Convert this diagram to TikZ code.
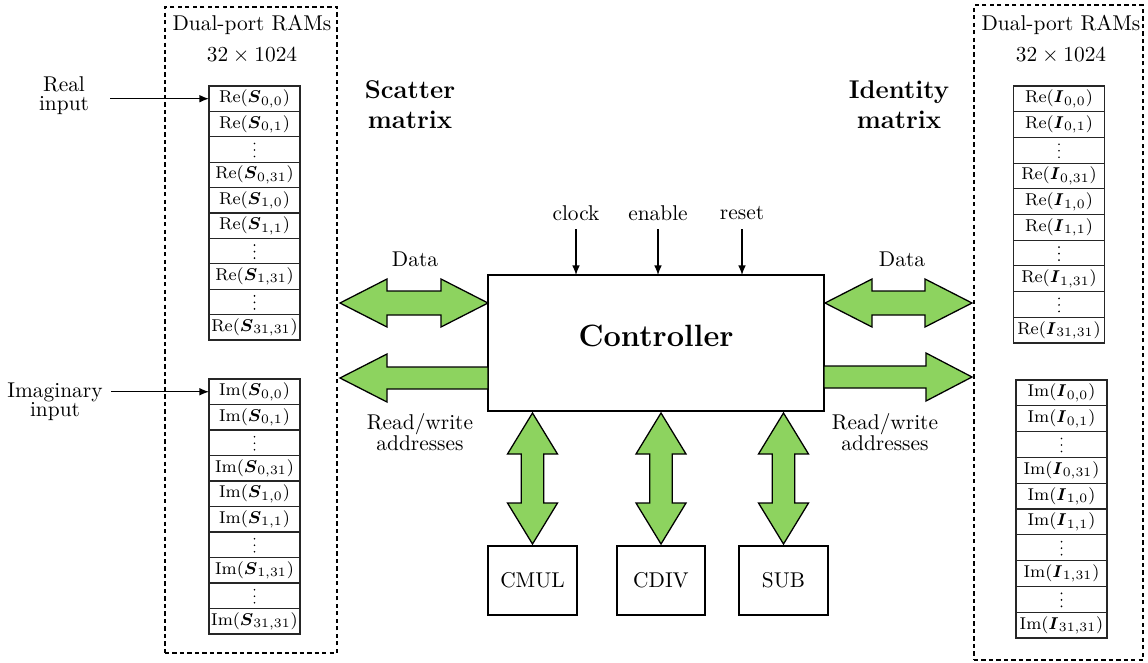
\documentclass[tikz,border=0pt]{standalone}
\usepackage{amsmath}
\usetikzlibrary{calc,arrows.meta}

% one drawing unit = one "pixel" of the layout grid
\newdimen\pxu \pxu=0.01643cm

\definecolor{busgreen}{RGB}{141,211,95}

% one entry of a RAM column, e.g. Re(S_{0,0})
\newcommand\ramentry[3]{#1$(\boldsymbol{#2}_{#3})$}

\tikzset{
  every node/.style={inner sep=0pt, outer sep=0pt},
  ramcell/.style={minimum width=91*\pxu, font=\footnotesize},
  cellrule/.style={draw=black!85, line width=0.5pt},
  rambank/.style={draw, dash pattern=on 2pt off 1.5pt, line width=0.5pt},
  unitbox/.style={draw, line width=0.7pt},
  lbl/.style={align=center},
  sig/.style={-{Latex[length=4.5pt,width=3.6pt]}, line width=0.6pt},
  bus/.style={draw=black, fill=busgreen, line width=0.6pt, line join=miter},
  % horizontal double-headed bus arrow, start on the left
  fath/.style={to path={
    -- ($(\tikztostart)+(47,-24)$) -- ($(\tikztostart)+(47,-12)$)
    -- ($(\tikztotarget)+(-47,-12)$) -- ($(\tikztotarget)+(-47,-24)$)
    -- (\tikztotarget)
    -- ($(\tikztotarget)+(-47,24)$) -- ($(\tikztotarget)+(-47,12)$)
    -- ($(\tikztostart)+(47,12)$) -- ($(\tikztostart)+(47,24)$) -- cycle}},
  % vertical double-headed bus arrow, start on top
  fatv/.style={to path={
    -- ($(\tikztostart)+(25,41)$) -- ($(\tikztostart)+(11.3,41)$)
    -- ($(\tikztotarget)+(11.3,-41)$) -- ($(\tikztotarget)+(25,-41)$)
    -- (\tikztotarget)
    -- ($(\tikztotarget)+(-25,-41)$) -- ($(\tikztotarget)+(-11.3,-41)$)
    -- ($(\tikztostart)+(-11.3,41)$) -- ($(\tikztostart)+(-25,41)$) -- cycle}},
  % single-headed bus arrow from tail to tip; #1 = offset of the head base from the tip
  fats/.style={to path={
    ($(\tikztostart)+(0,-11)$) -- ($(\tikztotarget)+(#1,-11)$)
    -- ($(\tikztotarget)+(#1,-24)$) -- (\tikztotarget)
    -- ($(\tikztotarget)+(#1,24)$) -- ($(\tikztotarget)+(#1,11)$)
    -- ($(\tikztostart)+(0,11)$) -- cycle}},
}

% a column of ten RAM words:
% #1 node prefix, #2 centre x, #3 top y, #4 row pitch, #5 Re/Im, #6 matrix letter
% rows 3, 7 and 9 hold a vertical ellipsis drawn as three dots
\newcommand\ramcolumn[6]{%
  \foreach [count=\i] \t in {{\ramentry{#5}{#6}{0,0}},{\ramentry{#5}{#6}{0,1}},{},
      {\ramentry{#5}{#6}{0,31}},{\ramentry{#5}{#6}{1,0}},{\ramentry{#5}{#6}{1,1}},{},
      {\ramentry{#5}{#6}{1,31}},{},{\ramentry{#5}{#6}{31,31}}}
    \node[ramcell, minimum height={(#4-1)*\pxu}] (#1\i) at (#2,{#3+#4*(\i-0.5)}) {\t};
  \draw[cellrule] ($(#11.north west)+(0,-0.5)$) rectangle ($(#110.south east)+(0,0.5)$);
  \foreach \i in {1,...,9}
    \draw[cellrule] ($(#1\i.south west)+(0,0.5)$) -- ($(#1\i.south east)+(0,0.5)$);
  \foreach \k in {3,7,9}
    \foreach \d in {-6.5,0,6.5}
      \fill ($(#1\k.center)+(0,\d+0.5)$) circle (0.45pt);
}

\begin{document}
\begin{tikzpicture}[x=0.01643cm, y=-0.01643cm]
\useasboundingbox (0,0) rectangle (1148,662);

% ---------- RAM banks ----------
\node[rambank, minimum width=172*\pxu, minimum height=646*\pxu] (lram) at (251,330) {};
\node[rambank, minimum width=169*\pxu, minimum height=655*\pxu] (rram) at (1058.5,332.5) {};

\node (ltitle) at (252,25) {Dual-port RAMs};
\node (lsize)  at (252,55) {$32\times1024$};
\node (rtitle) at (1061,25) {Dual-port RAMs};
\node (rsize)  at (1061,55) {$32\times1024$};

\ramcolumn{lre}{254.5}{86}{25.4}{Re}{S}
\ramcolumn{lim}{254.5}{379}{25.5}{Im}{S}
\ramcolumn{rre}{1059}{86}{25.7}{Re}{I}
\ramcolumn{rim}{1061.5}{380}{25.8}{Im}{I}

% ---------- inputs ----------
\node[lbl] (realin) at (64,96) {Real\\[-3pt]input};
\node[lbl] (imagin) at (55,402) {Imaginary\\[-3pt]input};
\coordinate (realsrc) at (110,98.7);
\coordinate (imagsrc) at (111,391.75);
\draw[sig] (realsrc) -- (lre1.west);
\draw[sig] (imagsrc) -- (lim1.west);

% ---------- matrix captions ----------
\node[lbl, font=\large\bfseries] (scat) at (410,105) {Scatter\\matrix};
\node[lbl, font=\large\bfseries] (iden) at (899,105) {Identity\\matrix};

% ---------- controller ----------
\node[unitbox, minimum width=336*\pxu, minimum height=136*\pxu] (ctrl) at (656,343) {};
\node[font=\Large\bfseries] (ctrltxt) at (656,336) {Controller};

\node (clk) at (576,213) {clock};
\node (ena) at (658,213) {enable};
\node (rst) at (742,213) {reset};
\coordinate (clksrc) at (576,229);
\coordinate (enasrc) at (658,229);
\coordinate (rstsrc) at (742,229);
\draw[sig] (clksrc) -- (clksrc |- ctrl.north);
\draw[sig] (enasrc) -- (enasrc |- ctrl.north);
\draw[sig] (rstsrc) -- (rstsrc |- ctrl.north);

% ---------- arithmetic units ----------
\node[unitbox, minimum width=89*\pxu, minimum height=69*\pxu] (cmul) at (532.5,580.5) {CMUL};
\node[unitbox, minimum width=88*\pxu, minimum height=69*\pxu] (cdiv) at (661,580.5) {CDIV};
\node[unitbox, minimum width=89*\pxu, minimum height=69*\pxu] (sub)  at (783.5,580.5) {SUB};

\foreach \u in {cmul,cdiv,sub}{
  \coordinate (\u top) at ($(ctrl.south -| \u.north)+(0,2)$);
  \coordinate (\u bot) at ($(\u.north)+(0,-2)$);
  \draw[bus, fatv] (\u top) to (\u bot);
}

% ---------- buses to the RAM banks ----------
\coordinate (ldatL) at ($(lram.east)+(3,-27)$);
\coordinate (ldatR) at ($(ctrl.west)+(0,-40)$);
\draw[bus, fath] (ldatL) to (ldatR);

\coordinate (laddrT) at ($(ctrl.west)+(0,35)$);
\coordinate (laddrH) at ($(lram.east)+(3,48)$);
\draw[bus, fats=47] (laddrT) to (laddrH);

\coordinate (rdatL) at ($(ctrl.east)+(1,-40)$);
\coordinate (rdatR) at ($(rram.west)+(-2,-29.5)$);
\draw[bus, fath] (rdatL) to (rdatR);

\coordinate (raddrT) at ($(ctrl.east)+(0,34)$);
\coordinate (raddrH) at ($(rram.west)+(-2,44.5)$);
\draw[bus, fats=-46] (raddrT) to (raddrH);

\node (ldat) at (415,259) {Data};
\node (rdat) at (902,259) {Data};
\node[lbl] (laddr) at (420,432) {Read/write\\[-2pt]addresses};
\node[lbl] (raddr) at (885,432) {Read/write\\[-2pt]addresses};
\end{tikzpicture}
\end{document}
